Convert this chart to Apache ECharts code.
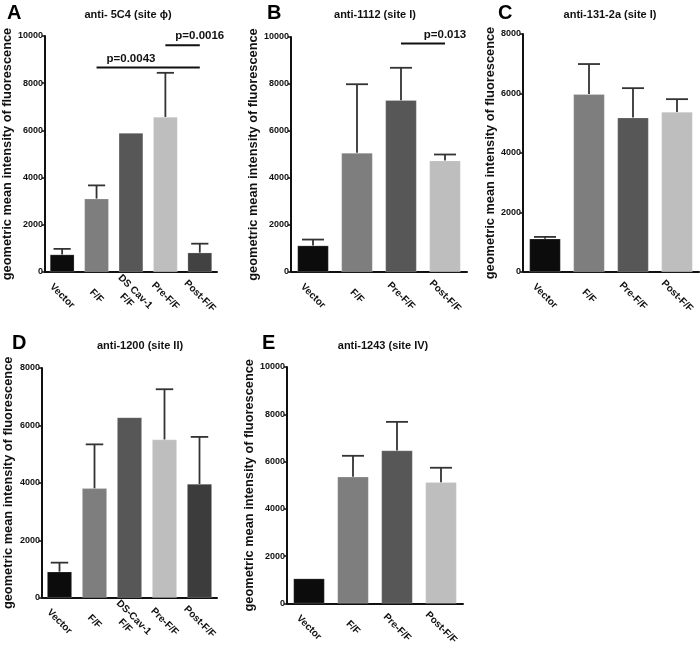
<!DOCTYPE html>
<html>
<head>
<meta charset="utf-8">
<script src="https://cdn.jsdelivr.net/npm/echarts@6/dist/echarts.min.js"></script>
<style>html,body{margin:0;padding:0;background:#fff;}#c{width:700px;height:648px;}</style>
</head>
<body>
<div id="c"></div>
<script>
// ---------- DATA ----------
const catsA = ['Vector', 'F/F', 'DS Cav-1\nF/F', 'Pre-F/F', 'Post-F/F'];
const catsB = ['Vector', 'F/F', 'Pre-F/F', 'Post-F/F'];
const catsC = ['Vector', 'F/F', 'Pre-F/F', 'Post-F/F'];
const catsD = ['Vector', 'F/F', 'DS-Cav-1\nF/F', 'Pre-F/F', 'Post-F/F'];
const catsE = ['Vector', 'F/F', 'Pre-F/F', 'Post-F/F'];

const meanA = [740, 3110, 5890, 6570, 820];
const upperA = [980, 3670, null, 8440, 1200];
const meanB = [1125, 5070, 7310, 4740];
const upperB = [1380, 7990, 8690, 5000];
const meanC = [1120, 5980, 5190, 5380];
const upperC = [1180, 6990, 6180, 5810];
const meanD = [905, 3810, 6280, 5510, 3960];
const upperD = [1220, 5340, null, 7260, 5600];
const meanE = [1055, 5360, 6470, 5130];
const upperE = [null, 6245, 7680, 5740];

const yTicksA = [0, 2000, 4000, 6000, 8000, 10000];
const yTicksB = [0, 2000, 4000, 6000, 8000, 10000];
const yTicksC = [0, 2000, 4000, 6000, 8000];
const yTicksD = [0, 2000, 4000, 6000, 8000];
const yTicksE = [0, 2000, 4000, 6000, 8000, 10000];

// significance brackets: [fromIndex, toIndex, value, labelIndex]
const sigA = [[1.24, 4, 8665, 2.23], [2.57, 4, 9610, 3.69]];
const sigAText = ['p=0.0043', 'p=0.0016'];
const sigB = [[1.96, 3.12, 9720, 2.77]];
const sigBText = ['p=0.013'];

const letters = ['A', 'B', 'C', 'D', 'E'];
const titles = ['anti- 5C4 (site \u03d5)', 'anti-1112 (site I)', 'anti-131-2a (site I)', 'anti-1200 (site II)', 'anti-1243 (site IV)'];
const yName = 'geometric mean intensity of fluorescence';

// ---------- STYLE ----------
const FONT = "'Liberation Sans', Arial, sans-serif";
const K = '#0c0c0c', G = '#7e7e7e', DG = '#575757', L = '#bebebe', XD = '#424242';
const colorsA = [K, G, DG, L, XD];
const colorsB = [K, G, DG, L];
const colorsC = [K, G, DG, L];
const colorsD = [K, G, DG, L, '#3c3c3c'];
const colorsE = [K, G, DG, L];

const grids = [
  {left: 42, top: 36, width: 175, height: 236},
  {left: 291, top: 37, width: 176, height: 235},
  {left: 523, top: 34, width: 176, height: 238},
  {left: 42, top: 368, width: 175, height: 235},
  {left: 287, top: 367, width: 176, height: 237}
];
const nameGaps = [27, 24, 23, 27, 22];
const letterPos = [[7, 3], [267, 3], [498, 3], [12, 333], [262, 333]];
const titlePos = [[128, 9], [375, 9], [610, 9], [140, 340], [383, 340]];

const panels = [
  {cats: catsA, mean: meanA, upper: upperA, ticks: yTicksA, colors: colorsA, sig: sigA, sigText: sigAText},
  {cats: catsB, mean: meanB, upper: upperB, ticks: yTicksB, colors: colorsB, sig: sigB, sigText: sigBText},
  {cats: catsC, mean: meanC, upper: upperC, ticks: yTicksC, colors: colorsC},
  {cats: catsD, mean: meanD, upper: upperD, ticks: yTicksD, colors: colorsD},
  {cats: catsE, mean: meanE, upper: upperE, ticks: yTicksE, colors: colorsE}
];

const option = {
  animation: false,
  backgroundColor: '#fff',
  textStyle: {fontFamily: FONT},
  title: [],
  grid: [],
  xAxis: [],
  yAxis: [],
  series: []
};

panels.forEach((p, i) => {
  option.title.push({
    text: letters[i], left: letterPos[i][0], top: letterPos[i][1], padding: 0,
    textStyle: {fontFamily: FONT, fontSize: 20, fontWeight: 'bold', color: '#000'}
  });
  option.title.push({
    text: titles[i], left: titlePos[i][0], top: titlePos[i][1], padding: 0, textAlign: 'center',
    textStyle: {fontFamily: FONT, fontSize: 11, fontWeight: 'bold', color: '#111'}
  });
  option.grid.push(Object.assign({containLabel: false}, grids[i]));
  option.xAxis.push({
    type: 'category', gridIndex: i, data: p.cats,
    axisLine: {lineStyle: {color: '#111', width: 2}},
    axisTick: {alignWithLabel: true, length: 4, lineStyle: {color: '#111', width: 1.5}},
    axisLabel: {
      interval: 0, rotate: -45, align: 'center', verticalAlign: 'middle', margin: 24,
      fontFamily: FONT, fontSize: 10, fontWeight: 'bold', color: '#111', lineHeight: 12
    }
  });
  const ymax = p.ticks[p.ticks.length - 1];
  option.yAxis.push({
    type: 'value', gridIndex: i, min: p.ticks[0], max: ymax, interval: p.ticks[1] - p.ticks[0],
    splitLine: {show: false},
    axisLine: {show: true, lineStyle: {color: '#111', width: 2}},
    axisTick: {show: true, length: 3, lineStyle: {color: '#111', width: 1.5}},
    axisLabel: {fontFamily: FONT, fontSize: 9, fontWeight: 'bold', color: '#111', margin: 2,
      formatter: v => String(v)},
    name: yName, nameLocation: 'middle', nameGap: nameGaps[i],
    nameTextStyle: {fontFamily: FONT, fontSize: 12.8, fontWeight: 'bold', color: '#111'}
  });
  option.series.push({
    type: 'bar', xAxisIndex: i, yAxisIndex: i, barWidth: '71%',
    data: p.mean.map((v, j) => ({value: v, itemStyle: {color: p.colors[j], borderColor: 'rgba(255,255,255,0.35)', borderWidth: 0.6}}))
  });
  // error bars (upward only, T-cap)
  option.series.push({
    type: 'custom', xAxisIndex: i, yAxisIndex: i, z: 5,
    data: p.mean.map((v, j) => [j, v, p.upper[j] == null ? v : p.upper[j], p.upper[j] == null ? 0 : 1]),
    encode: {x: 0, y: [1, 2]},
    renderItem: function (params, api) {
      if (!api.value(3)) return null;
      const a = api.coord([api.value(0), api.value(1)]);
      const b = api.coord([api.value(0), api.value(2)]);
      const hw = api.size([1, 0])[0] * 0.25;
      const st = {stroke: '#333', lineWidth: 1.8};
      return {type: 'group', children: [
        {type: 'line', shape: {x1: a[0], y1: a[1], x2: b[0], y2: b[1]}, style: st},
        {type: 'line', shape: {x1: b[0] - hw, y1: b[1], x2: b[0] + hw, y2: b[1]}, style: st}
      ]};
    }
  });
  if (p.sig) {
    option.series.push({
      type: 'custom', xAxisIndex: i, yAxisIndex: i, z: 6,
      data: p.sig,
      encode: {x: [0, 1], y: 2},
      renderItem: function (params, api) {
        const a = api.coord([api.value(0), api.value(2)]);
        const b = api.coord([api.value(1), api.value(2)]);
        const t = api.coord([api.value(3), api.value(2)]);
        return {type: 'group', children: [
          {type: 'line', shape: {x1: a[0], y1: a[1], x2: b[0], y2: b[1]}, style: {stroke: '#111', lineWidth: 2}},
          {type: 'text', x: t[0], y: a[1] - 3, style: {text: p.sigText[params.dataIndex], fill: '#111',
            font: 'bold 11.5px ' + FONT, textAlign: 'center', textVerticalAlign: 'bottom'}}
        ]};
      }
    });
  }
});

const chart = echarts.init(document.getElementById('c'), null, {renderer: 'canvas'});
chart.setOption(option);
</script>
</body>
</html>
